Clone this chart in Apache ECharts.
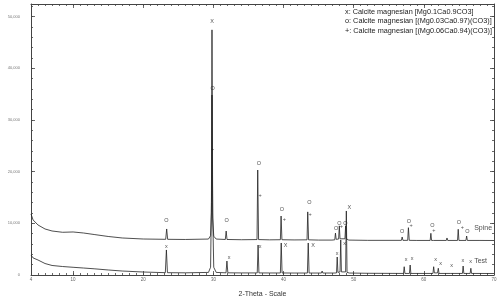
<!DOCTYPE html>
<html>
<head>
<meta charset="utf-8">
<script src="https://cdn.jsdelivr.net/npm/echarts@6/dist/echarts.min.js"></script>
<style>html,body{margin:0;padding:0;background:#fff}#c{width:500px;height:299px}</style>
</head>
<body>
<div id="c"></div>
<script>
// ---- data (2-Theta, Lin counts) ----
var spine = [
[4.0,11800],[4.3,10640],[5,9670],[6,8900],[7,8510],[8.5,8260],[10,8320],[11.5,8120],[13,7830],[15,7450],[17,7160],[20,6960],
[23.2,6900],[23.34,8900],[23.48,6900],[26,6870],[29.3,6950],[29.6,7600],[29.72,12000],[29.8,34800],[29.9,11000],[30.05,7500],[30.4,6950],
[31.7,6870],[31.82,8500],[31.94,6870],[34,6820],[36.22,6850],[36.32,20300],[36.44,6850],
[38,6800],[39.55,6820],[39.65,11400],[39.77,6820],[41.5,6780],[43.35,6800],[43.45,12200],[43.57,6800],
[45,6750],[46.9,6750],[47.3,6800],[47.4,8100],[47.5,6900],[47.85,6950],[47.95,9500],[48.05,7000],[48.75,7000],[48.85,9500],[48.95,7000],[49.3,6750],
[52,6700],[56.8,6700],[56.91,7350],[57.02,6700],[57.7,6700],[57.8,9150],[57.92,6700],
[59,6680],[60.9,6680],[61.0,8060],[61.1,6680],[61.4,6680],[61.5,7000],[61.6,6680],
[63.2,6680],[63.3,7160],[63.4,6680],[64.8,6680],[64.9,8840],[65.0,6680],[66.0,6680],[66.1,7540],[66.2,6680],[68,6680],[70,6670]
];
var test = [
[4,3870],[4.3,3300],[5,2900],[6,2220],[7,1840],[8.5,1640],[10,1490],[11.5,1350],[13,1200],[15,970],[17,770],[20,580],
[23.15,450],[23.3,4840],[23.45,450],[26,420],[29.3,500],[29.6,1500],[29.72,14000],[29.8,47400],[29.9,12000],[30.05,1500],[30.4,500],
[31.8,420],[31.93,2700],[32.06,420],[34,400],[36.25,400],[36.37,5800],[36.49,400],[38,390],[39.55,390],[39.67,6190],[39.79,390],
[41.5,380],[43.4,380],[43.52,6190],[43.64,380],[45.4,380],[45.5,770],[45.6,380],[47.2,380],[47.55,400],[47.65,3480],[47.75,500],
[48.05,600],[48.15,6770],[48.25,600],[48.85,600],[48.95,12380],[49.05,500],[49.4,380],[52,330],
[57.1,300],[57.2,1600],[57.3,300],[57.95,300],[58.05,1930],[58.15,300],[61.3,300],[61.4,1600],[61.5,400],[61.95,400],[62.06,1300],[62.16,300],
[63.85,300],[63.95,640],[64.05,300],[65.5,300],[65.6,1740],[65.7,300],[66.6,300],[66.7,1300],[66.8,300],[70,290]
];
// phase markers [2-Theta, counts, symbol]
var spineMarks = [
[23.3,10450,'O'],[29.9,36000,'O'],[29.9,24350,'+'],[31.9,10450,'O'],[36.5,21600,'O'],[36.67,15340,'+'],
[39.77,12760,'O'],[40.1,10640,'+'],[43.67,13980,'O'],[43.8,11740,'+'],[47.49,9030,'O'],[47.96,10000,'O'],[48.24,9340,'+'],
[48.81,10000,'O'],[56.91,8370,'O'],[57.86,10300,'O'],[58.2,9480,'+'],[61.2,9480,'O'],[61.43,8700,'+'],
[65.0,10110,'O'],[65.5,9220,'+'],[66.2,8510,'O']
];
var testMarks = [
[29.8,49000,'X'],[49.39,13090,'X'],[23.3,5610,'x'],[32.24,3480,'x'],[36.67,5470,'x'],[40.3,5800,'X'],[44.2,5670,'X'],
[47.63,4200,'x'],[48.71,6130,'x'],[57.49,3090,'x'],[58.34,3230,'x'],[61.67,3090,'x'],[62.38,2130,'x'],
[63.96,1800,'x'],[65.57,2900,'x'],[66.67,2570,'x']
];
var seriesNames = [[67.1,9100,'Spine'],[67.1,2700,'Test']];
var xLabels = [4,10,20,30,40,50,60,70];
var yLabels = [0,10000,20000,30000,40000,50000];
var legendLines = [
'x: Calcite magnesian [Mg0.1Ca0.9CO3]',
'o: Calcite magnesian [(Mg0.03Ca0.97)(CO3)]',
'+: Calcite magnesian [(Mg0.06Ca0.94)(CO3)]'
];

var xMinor = []; for (var i = 4; i <= 70; i++) xMinor.push(i);
var yMinor = []; for (var j = 0; j <= 52000; j += 2000) yMinor.push(j);
var FONT = 'Liberation Sans, Arial, sans-serif';
var AX = '#444';

function xa(pos, ticks, len, line, labels) {
  return {type:'value', min:4, max:70, position:pos,
    axisLine:{show:line, onZero:false, lineStyle:{color:AX,width:1}},
    axisTick:{show:true, inside:true, length:len, customValues:ticks, lineStyle:{color:AX,width:0.8}},
    axisLabel:labels ? {show:true, customValues:xLabels, fontSize:4.5, color:'#666', margin:2, fontFamily:FONT} : {show:false},
    splitLine:{show:false}};
}
function ya(pos, ticks, len, line, labels) {
  return {type:'value', min:0, max:52400, position:pos,
    axisLine:{show:line, onZero:false, lineStyle:{color:AX,width:1}},
    axisTick:{show:true, inside:true, length:len, customValues:ticks, lineStyle:{color:AX,width:0.8}},
    axisLabel:labels ? {show:true, customValues:yLabels, fontSize:4, color:'#777', margin:11, fontFamily:FONT} : {show:false},
    splitLine:{show:false}};
}
var xAxes = [xa('bottom', xLabels, 4, true, true), xa('bottom', xMinor, 2, false, false),
             xa('top', xLabels, 4, true, false), xa('top', xMinor, 2, false, false)];
xAxes[0].name = '2-Theta - Scale';
xAxes[0].nameLocation = 'middle';
xAxes[0].nameGap = 16;
xAxes[0].nameTextStyle = {fontSize:7, color:'#333', fontFamily:FONT};
var yAxes = [ya('left', yLabels, 4, true, true), ya('left', yMinor, 2, false, false),
             ya('right', yLabels, 4, true, false), ya('right', yMinor, 2, false, false)];
yAxes[0].name = 'Lin (Counts)';
yAxes[0].nameLocation = 'middle';
yAxes[0].nameGap = 22;
yAxes[0].nameTextStyle = {fontSize:7, color:'#333', fontFamily:FONT};

function markSeries(data, fs) {
  return {type:'scatter', data:data, symbol:'circle', symbolSize:1, silent:true,
    itemStyle:{color:'rgba(0,0,0,0)'},
    label:{show:true, position:'inside', formatter:function(p){return p.data[2];}, fontSize:fs, color:'#222', fontFamily:FONT},
    z:5};
}
var lineStyle = {color:'#222', width:0.8};
var chart = echarts.init(document.getElementById('c'), null, {renderer:'canvas'});
chart.setOption({
  animation:false,
  backgroundColor:'#fff',
  grid:{left:31, right:6, top:4, bottom:24, containLabel:false, outerBoundsMode:'none'},
  xAxis:xAxes,
  yAxis:yAxes,
  series:[
    {type:'line', data:spine, showSymbol:false, lineStyle:lineStyle, silent:true},
    {type:'line', data:test, showSymbol:false, lineStyle:lineStyle, silent:true},
    markSeries(spineMarks, 5.5),
    markSeries(testMarks, 5.5),
    {type:'scatter', data:seriesNames, symbolSize:1, silent:true, itemStyle:{color:'rgba(0,0,0,0)'},
     label:{show:true, position:'right', distance:0, formatter:function(p){return p.data[2];}, fontSize:7, color:'#222', fontFamily:FONT}}
  ],
  graphic:legendLines.map(function(t, k){
    return {type:'text', left:345, top:8 + k*9.5, style:{text:t, fontSize:7.3, fill:'#222', fontFamily:FONT}};
  })
});
</script>
</body>
</html>
